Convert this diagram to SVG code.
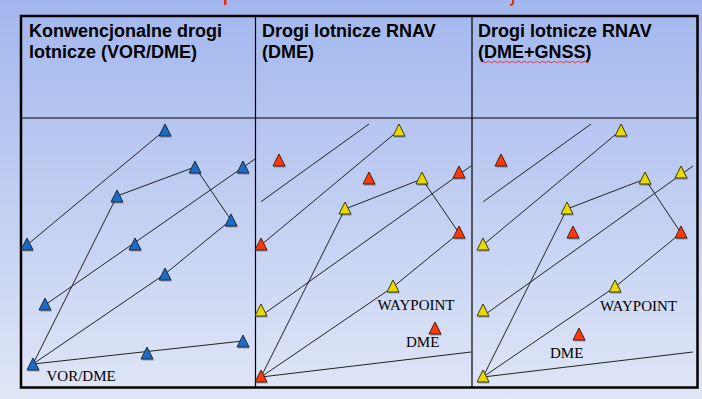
<svg xmlns="http://www.w3.org/2000/svg" xmlns:xlink="http://www.w3.org/1999/xlink" width="702" height="399" viewBox="0 0 702 399">
<defs>
<linearGradient id="bg" x1="0" y1="0" x2="0" y2="1">
<stop offset="0" stop-color="#a3b7ee"/>
<stop offset="1" stop-color="#dfe6f6"/>
</linearGradient>
<path id="tri" d="M0,0 L6,12 L-6,12 Z"/>
<style>
.hdr{font-family:"Liberation Sans",Arial,sans-serif;font-weight:bold;font-size:18px;fill:#000}
.lbl{font-family:"Liberation Serif","Times New Roman",serif;font-size:15px;fill:#000}
.grid{stroke:#000;fill:none}
.cn line,.cn polyline{stroke:#222;stroke-width:1;fill:none}
.sh{fill:#000;fill-opacity:0.3}
.b{fill:#1a6cc6;stroke:#1e2a3a;stroke-width:1}
.y{fill:#e8da00;stroke:#3a3a1e;stroke-width:1}
.r{fill:#ff3a08;stroke:#3a221e;stroke-width:1}
</style>
</defs>
<rect width="702" height="399" fill="url(#bg)"/>
<!-- cut-off title fragments -->
<rect x="224" y="0" width="2.5" height="5" fill="#e03010"/>
<path d="M513,0 L513,3 Q512.5,5 510,5" stroke="#e03010" stroke-width="2" fill="none"/>
<!-- table -->
<g id="table">
<rect class="grid" x="21" y="16" width="676.5" height="371.5" stroke-width="2.5"/>
<line class="grid" x1="255.5" y1="16" x2="255.5" y2="387.5" stroke-width="1.2"/>
<line class="grid" x1="472" y1="16" x2="472" y2="387.5" stroke-width="1.2"/>
<line class="grid" x1="21" y1="118" x2="697.5" y2="118" stroke-width="1.2"/>
</g>
<g id="headers">
<text class="hdr" x="29" y="37">Konwencjonalne drogi</text>
<text class="hdr" x="29" y="58">lotnicze (VOR/DME)</text>
<text class="hdr" x="262" y="37">Drogi lotnicze RNAV</text>
<text class="hdr" x="262" y="58">(DME)</text>
<text class="hdr" x="478" y="37">Drogi lotnicze RNAV</text>
<text class="hdr" x="478" y="58">(DME+GNSS)</text>
<path d="M481,62 q1.5,-1.5 3,0 t3,0 t3,0 t3,0 t3,0 t3,0 t3,0 t3,0 t3,0 t3,0 t3,0 t3,0 t3,0 t3,0 t3,0 t3,0 t3,0 t3,0 t3,0 t3,0 t3,0 t3,0 t3,0 t3,0 t3,0 t3,0 t3,0 t3,0 t3,0 t3,0 t3,0 t3,0 t3,0 t3,0 t3,0 t3,0" stroke="#e02020" stroke-width="0.8" fill="none"/>
</g>
<g id="connectors" class="cn">
<line x1="27" y1="245" x2="165" y2="130"/>
<line x1="195" y1="167" x2="117" y2="196"/>
<line x1="117" y1="196" x2="33" y2="364"/>
<line x1="195" y1="167" x2="231" y2="220"/>
<line x1="255" y1="159" x2="45" y2="305"/>
<polyline points="231,220 165,274 33,364"/>
<line x1="33" y1="364" x2="243" y2="341"/>

<line x1="261" y1="201.7" x2="369" y2="124"/>
<line x1="261" y1="245" x2="399" y2="130"/>
<line x1="422" y1="179" x2="345" y2="209"/>
<line x1="345" y1="209" x2="261" y2="377"/>
<line x1="422" y1="179" x2="459" y2="233"/>
<line x1="471" y1="166" x2="261" y2="316"/>
<polyline points="459,233 393,287 261,377"/>
<line x1="261" y1="377" x2="471" y2="352"/>

<line x1="483.3" y1="201.7" x2="591" y2="124"/>
<line x1="483" y1="245" x2="621" y2="130"/>
<line x1="645" y1="179" x2="567" y2="209"/>
<line x1="567" y1="209" x2="483" y2="377"/>
<line x1="645" y1="179" x2="681" y2="233"/>
<line x1="693" y1="166" x2="483" y2="316"/>
<polyline points="681,233 615,287 483,377"/>
<line x1="483" y1="377" x2="693" y2="352"/>
</g>
<!-- panel 1 nodes -->
<g id="p1-b1"><use href="#tri" class="sh" x="166" y="125.5"/><use href="#tri" class="b" x="165" y="124"/></g>
<g id="p1-b2"><use href="#tri" class="sh" x="196" y="162.5"/><use href="#tri" class="b" x="195" y="161"/></g>
<g id="p1-b3"><use href="#tri" class="sh" x="244" y="162.5"/><use href="#tri" class="b" x="243" y="161"/></g>
<g id="p1-b4"><use href="#tri" class="sh" x="118" y="191.5"/><use href="#tri" class="b" x="117" y="190"/></g>
<g id="p1-b5"><use href="#tri" class="sh" x="232" y="215.5"/><use href="#tri" class="b" x="231" y="214"/></g>
<g id="p1-b6"><use href="#tri" class="sh" x="28" y="239.5"/><use href="#tri" class="b" x="27" y="238"/></g>
<g id="p1-b7"><use href="#tri" class="sh" x="136" y="239.5"/><use href="#tri" class="b" x="135" y="238"/></g>
<g id="p1-b8"><use href="#tri" class="sh" x="166" y="269.5"/><use href="#tri" class="b" x="165" y="268"/></g>
<g id="p1-b9"><use href="#tri" class="sh" x="46" y="299.5"/><use href="#tri" class="b" x="45" y="298"/></g>
<g id="p1-b10"><use href="#tri" class="sh" x="34" y="359.5"/><use href="#tri" class="b" x="33" y="358"/></g>
<g id="p1-b11"><use href="#tri" class="sh" x="148" y="348.5"/><use href="#tri" class="b" x="147" y="347"/></g>
<g id="p1-b12"><use href="#tri" class="sh" x="244" y="336.5"/><use href="#tri" class="b" x="243" y="335"/></g>
<text class="lbl" x="46.5" y="381">VOR/DME</text>
<!-- panel 2 nodes -->
<g id="p2-y1"><use href="#tri" class="sh" x="400" y="125.5"/><use href="#tri" class="y" x="399" y="124"/></g>
<g id="p2-r1"><use href="#tri" class="sh" x="280" y="155.5"/><use href="#tri" class="r" x="279" y="154"/></g>
<g id="p2-r2"><use href="#tri" class="sh" x="370" y="173.5"/><use href="#tri" class="r" x="369" y="172"/></g>
<g id="p2-y2"><use href="#tri" class="sh" x="423" y="173.5"/><use href="#tri" class="y" x="422" y="172"/></g>
<g id="p2-r3"><use href="#tri" class="sh" x="460" y="167.5"/><use href="#tri" class="r" x="459" y="166"/></g>
<g id="p2-y3"><use href="#tri" class="sh" x="346" y="203.5"/><use href="#tri" class="y" x="345" y="202"/></g>
<g id="p2-r4"><use href="#tri" class="sh" x="460" y="227.5"/><use href="#tri" class="r" x="459" y="226"/></g>
<g id="p2-r5"><use href="#tri" class="sh" x="262" y="239.5"/><use href="#tri" class="r" x="261" y="238"/></g>
<g id="p2-y4"><use href="#tri" class="sh" x="394" y="281.5"/><use href="#tri" class="y" x="393" y="280"/></g>
<g id="p2-y5"><use href="#tri" class="sh" x="262" y="305.5"/><use href="#tri" class="y" x="261" y="304"/></g>
<g id="p2-r6"><use href="#tri" class="sh" x="436" y="323.5"/><use href="#tri" class="r" x="435" y="322"/></g>
<g id="p2-r7"><use href="#tri" class="sh" x="262" y="371.5"/><use href="#tri" class="r" x="261" y="370"/></g>
<text class="lbl" x="377.5" y="310">WAYPOINT</text>
<text class="lbl" x="406" y="347">DME</text>
<!-- panel 3 nodes -->
<g id="p3-y1"><use href="#tri" class="sh" x="622" y="125.5"/><use href="#tri" class="y" x="621" y="124"/></g>
<g id="p3-r1"><use href="#tri" class="sh" x="502" y="155.5"/><use href="#tri" class="r" x="501" y="154"/></g>
<g id="p3-y2"><use href="#tri" class="sh" x="646" y="173.5"/><use href="#tri" class="y" x="645" y="172"/></g>
<g id="p3-y3r"><use href="#tri" class="sh" x="682" y="167.5"/><use href="#tri" class="y" x="681" y="166"/></g>
<g id="p3-y3"><use href="#tri" class="sh" x="568" y="203.5"/><use href="#tri" class="y" x="567" y="202"/></g>
<g id="p3-r2"><use href="#tri" class="sh" x="574" y="227.5"/><use href="#tri" class="r" x="573" y="226"/></g>
<g id="p3-r4"><use href="#tri" class="sh" x="682" y="227.5"/><use href="#tri" class="r" x="681" y="226"/></g>
<g id="p3-y5"><use href="#tri" class="sh" x="484" y="239.5"/><use href="#tri" class="y" x="483" y="238"/></g>
<g id="p3-y4"><use href="#tri" class="sh" x="616" y="281.5"/><use href="#tri" class="y" x="615" y="280"/></g>
<g id="p3-y6"><use href="#tri" class="sh" x="484" y="305.5"/><use href="#tri" class="y" x="483" y="304"/></g>
<g id="p3-r6"><use href="#tri" class="sh" x="580" y="329.5"/><use href="#tri" class="r" x="579" y="328"/></g>
<g id="p3-y7"><use href="#tri" class="sh" x="484" y="371.5"/><use href="#tri" class="y" x="483" y="370"/></g>
<text class="lbl" x="600" y="310.5">WAYPOINT</text>
<text class="lbl" x="550" y="358">DME</text>
</svg>
